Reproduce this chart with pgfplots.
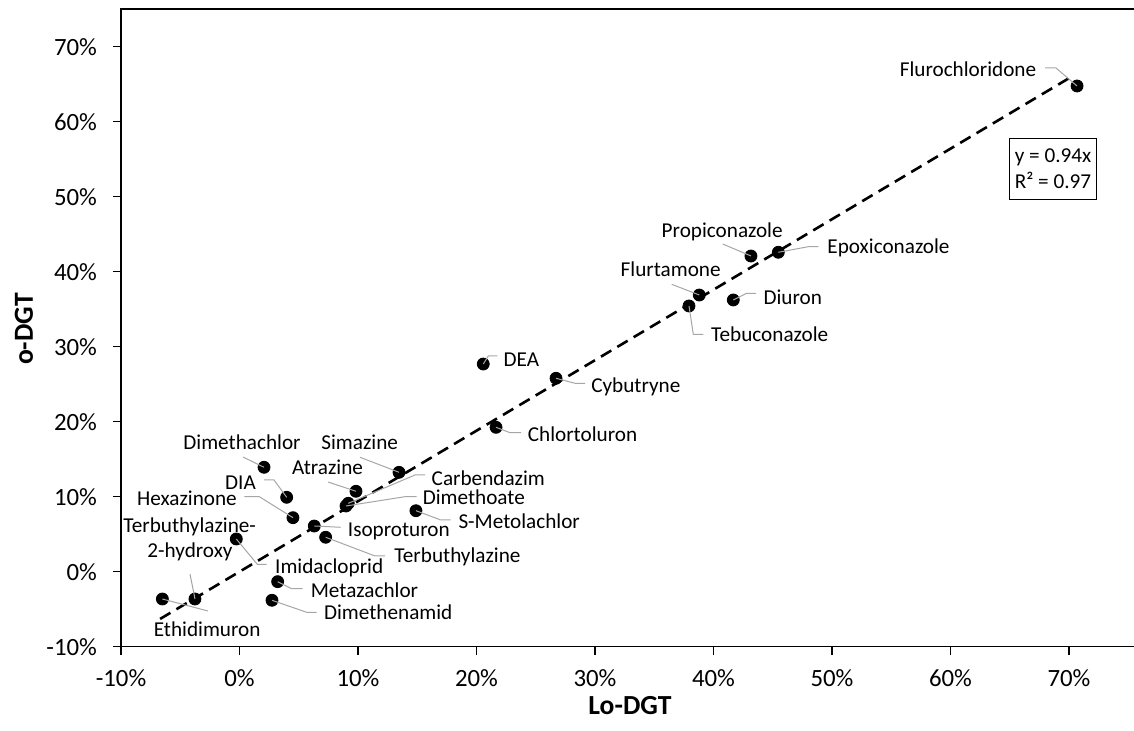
\documentclass[border=0pt]{standalone}
\usepackage{fontspec}
\setmainfont{Carlito}
\usepackage{pgfplots}
\pgfplotsset{compat=1.18}
\newcommand\lf{\fontsize{10.6}{12.8}\selectfont}
\definecolor{leader}{HTML}{A6A6A6}
\begin{document}
\begin{tikzpicture}
\begin{axis}[name=ax,
  scale only axis, width=509.55pt, height=318.75pt,
  xmin=-10, xmax=76, ymin=-10, ymax=75,
  xtick={-10,0,10,20,30,40,50,60,70},
  ytick={-10,0,10,20,30,40,50,60,70},
  xticklabels={-10\%,0\%,10\%,20\%,30\%,40\%,50\%,60\%,70\%},
  yticklabels={-10\%,0\%,10\%,20\%,30\%,40\%,50\%,60\%,70\%},
  tick pos=left, tick align=outside, major tick length=4pt,
  tick style={black, line width=0.8pt},
  axis line style={black, line width=0.8pt},
  ticklabel style={font=\fontsize{12.4}{14}\selectfont},
  xticklabel style={yshift=-4pt},
  yticklabel style={xshift=-4.5pt},
  clip=false]
\addplot[black, line width=1.3pt, dash pattern=on 6pt off 3.5pt] coordinates {(-6.7,-6.30) (70,65.8)};
\addplot[only marks, mark=*, mark size=3pt, black] coordinates {
(70.68,64.76) (45.47,42.59) (43.16,42.09) (38.80,36.89) (37.93,35.43)
(41.67,36.23) (20.57,27.69) (26.71,25.79) (21.65,19.25) (2.07,13.92)
(3.98,9.92) (4.51,7.20) (9.83,10.72) (13.46,13.25) (9.18,9.12)
(8.99,8.76) (14.89,8.13) (6.31,6.09) (7.27,4.59) (-0.27,4.36)
(3.22,-1.33) (2.74,-3.81) (-3.76,-3.64) (-6.51,-3.64)};
\end{axis}
\pgfresetboundingbox
\begin{scope}[shift={(ax.south west)}]
\begin{scope}[shift={(-60.5pt,323.35pt)}, x=0.5pt, y=-0.5pt]
\path[use as bounding box] (0,0) rectangle (1134,731);
% axis titles
\node[font=\fontsize{13.8}{16}\selectfont\bfseries, inner sep=0pt] at (630,706) {Lo-DGT};
\node[font=\fontsize{13.8}{16}\selectfont\bfseries, inner sep=0pt, rotate=90] at (24,329) {o-DGT};
% leader lines
\begin{scope}[draw=leader, line width=0.5pt]
\draw (1045,68) -- (1056,68) -- (1077,86);
\draw (818.3,246.7) -- (808.3,246.7) -- (778.3,252.3);
\draw (722.7,244) -- (751,256);
\draw (671.7,284.3) -- (699.3,295);
\draw (756,293.3) -- (746.7,293.3) -- (733.3,300);
\draw (703.3,334.3) -- (693.3,334.3) -- (689,306);
\draw (497.3,356) -- (488.3,356) -- (483.3,364);
\draw (585,383.3) -- (575,383.3) -- (556,378.3);
\draw (521,432.7) -- (510,432.7) -- (496,427.3);
\draw (243,457) -- (264,467.3);
\draw (360,457.3) -- (399,472.3);
\draw (328,482) -- (356,491.3);
\draw (264,480) -- (274,480) -- (286.7,497.3);
\draw (244.3,496.7) -- (259.3,496.7) -- (293,517.7);
\draw (425,475) -- (415,475) -- (348.3,503.3);
\draw (416.7,496.7) -- (405,496.7) -- (346,506);
\draw (450.7,520) -- (440.7,520) -- (416,510.7);
\draw (340.7,527.3) -- (314.3,526);
\draw (385,556) -- (375,556) -- (325.7,537.3);
\draw (266.7,564.3) -- (257.3,564.3) -- (236.3,539);
\draw (302.7,588.7) -- (291.7,588.7) -- (277.7,581.7);
\draw (316.7,612.3) -- (306.7,612.3) -- (272,600.3);
\draw (190,574) -- (195,599);
\draw (208,611) -- (162.3,599);
\end{scope}
% labels
\begin{scope}[every node/.style={font=\lf, inner sep=0pt, anchor=base}]
\node at (968,77) {Flurochloridone};
\node at (888.5,254) {Epoxiconazole};
\node at (722.2,237.7) {Propiconazole};
\node at (670.7,277) {Flurtamone};
\node at (792.8,304.3) {Diuron};
\node at (769.7,342) {Tebuconazole};
\node at (521.3,366.3) {DEA};
\node at (635.8,392.7) {Cybutryne};
\node at (582.5,442) {Chlortoluron};
\node at (242,449.7) {Dimethachlor};
\node at (359.7,449.7) {Simazine};
\node at (327.5,474.7) {Atrazine};
\node at (240.5,489.7) {DIA};
\node at (187,506) {Hexazinone};
\node at (488.3,485.3) {Carbendazim};
\node at (473.8,504.3) {Dimethoate};
\node at (519.2,528.7) {S-Metolachlor};
\node at (398.8,537) {Isoproturon};
\node at (457.5,563) {Terbuthylazine};
\node at (189.7,532.3) {Terbuthylazine-};
\node at (190,558) {2-hydroxy};
\node at (329.2,573.7) {Imidacloprid};
\node at (364.5,597.7) {Metazachlor};
\node at (388.2,619.7) {Dimethenamid};
\node at (207.2,637) {Ethidimuron};
\end{scope}
\node[draw=black, line width=0.6pt, fill=white, align=left, inner xsep=2.5pt, inner ysep=5.5pt, font=\lf] at (1053,169) {y = 0.94x\\R² = 0.97};
\end{scope}
\end{scope}
\end{tikzpicture}
\end{document}
